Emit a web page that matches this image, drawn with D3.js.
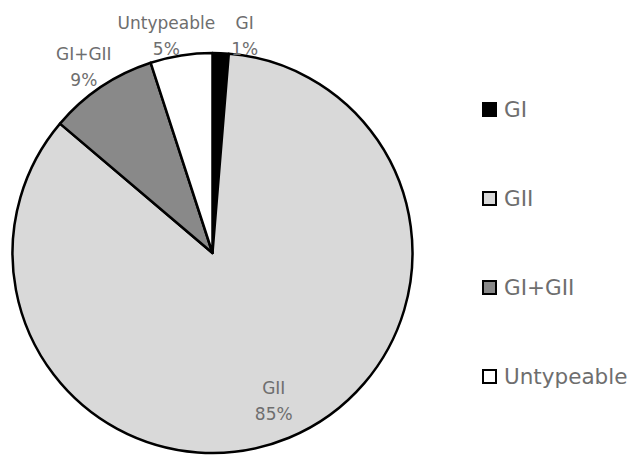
<!DOCTYPE html>
<html>
<head>
<meta charset="utf-8">
<script src="https://cdn.jsdelivr.net/npm/d3@7"></script>
<style>
  body { margin: 0; background: #fff; }
  text { font-family: "DejaVu Sans", sans-serif; fill: #6e6e6e; }
</style>
</head>
<body>
<div id="chart"></div>
<script>
// Data
const categories = ["GI", "GII", "GI+GII", "Untypeable"];
const shares = [1.3, 84.9, 8.8, 5.0];
const colors = ["#000000", "#d9d9d9", "#898989", "#ffffff"];

const width = 627, height = 456;
const cx = 212.5, cy = 253, radius = 200;

const svg = d3.select("#chart").append("svg")
  .attr("width", width).attr("height", height);

const data = categories.map((c, i) => ({ name: c, value: shares[i], color: colors[i] }));

const pie = d3.pie().value(d => d.value).sort(null);
const arcs = pie(data);
const arc = d3.arc().innerRadius(0).outerRadius(radius);

const plot = svg.append("g").attr("transform", `translate(${cx}, ${cy})`);

plot.selectAll("path.slice")
  .data(arcs)
  .join("path")
  .classed("slice", true)
  .attr("d", arc)
  .attr("fill", d => d.data.color)
  .attr("stroke", "#000")
  .attr("stroke-width", 2.5)
  .attr("stroke-linejoin", "round");

// Labels
const fmt = d3.format(".0f");
const lineH = 26;
const labels = plot.selectAll("g.label")
  .data(arcs)
  .join("g")
  .classed("label", true);

labels.append("text")
  .attr("text-anchor", "middle")
  .style("font-size", "17px")
  .selectAll("tspan")
  .data(d => [d.data.name, fmt(d.data.value) + "%"])
  .join("tspan")
  .attr("x", 0)
  .attr("dy", (d, i) => i === 0 ? 0 : lineH)
  .text(d => d);

// big slice: label inside; small slices: label just outside the rim
const boxes = [];
labels.each(function (d) {
  const bb = this.getBBox();
  const a = (d.startAngle + d.endAngle) / 2;
  const s = Math.sin(a), c = Math.cos(a);
  let x, y;
  if (d.endAngle - d.startAngle > Math.PI) {
    x = s * radius * 0.8;
    y = -c * radius * 0.8;
  } else {
    const dist = radius + Math.abs(s) * bb.width / 2 + Math.abs(c) * (bb.height - 10) / 2 - 6;
    x = s * dist + s * bb.width * 0.12;
    y = -c * dist;
  }
  boxes.push({ g: d3.select(this), bb, x, y });
});
// GI and Untypeable sit side by side at the top: spread them apart
const first = boxes[0], last = boxes[boxes.length - 1];
const overlap = (last.x + last.bb.width / 2 + 16) - (first.x - first.bb.width / 2);
if (overlap > 0) {
  last.x -= overlap * 0.3;
  first.x += overlap * 0.7;
  first.y = last.y;
}
boxes.forEach(b => {
  const ty = b.y - (b.bb.y + b.bb.height / 2);
  b.g.attr("transform", `translate(${b.x}, ${ty})`);
});

// Legend
const legend = svg.append("g").attr("transform", "translate(482, 102)");
const items = legend.selectAll("g.item")
  .data(data)
  .join("g")
  .classed("item", true)
  .attr("transform", (d, i) => `translate(0, ${i * 89})`);

items.append("rect")
  .attr("x", 1).attr("y", 1)
  .attr("width", 13).attr("height", 13)
  .attr("fill", d => d.color)
  .attr("stroke", "#000")
  .attr("stroke-width", 2);

items.append("text")
  .attr("x", 22).attr("y", 7.5)
  .attr("dy", "0.35em")
  .style("font-size", "21.5px")
  .text(d => d.name);
</script>
</body>
</html>
